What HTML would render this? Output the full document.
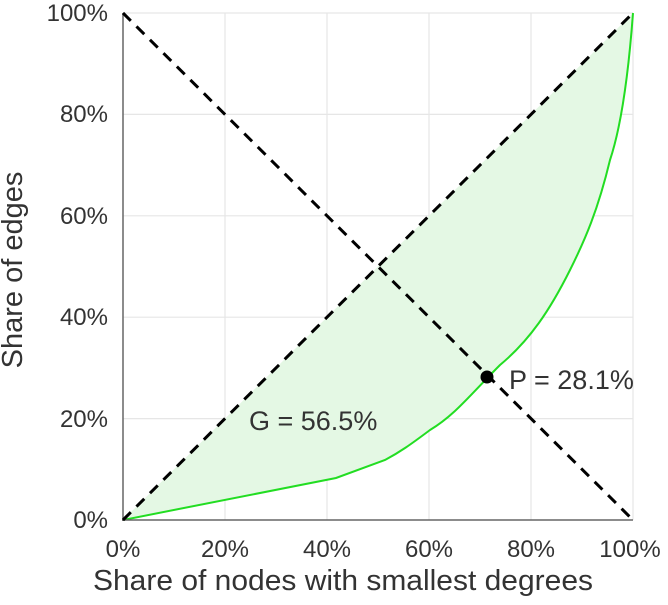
<!DOCTYPE html>
<html><head><style>body{margin:0;background:#fff}svg text{font-family:"Liberation Sans",sans-serif;fill:#333}</style></head>
<body>
<svg width="668" height="600" xmlns="http://www.w3.org/2000/svg">
<g stroke="#e6e6e6" stroke-width="1.2">
<line x1="225" y1="13" x2="225" y2="520"/><line x1="327" y1="13" x2="327" y2="520"/><line x1="429" y1="13" x2="429" y2="520"/><line x1="531" y1="13" x2="531" y2="520"/><line x1="633" y1="13" x2="633" y2="520"/>
<line x1="123" y1="13" x2="633" y2="13"/><line x1="123" y1="114.4" x2="633" y2="114.4"/><line x1="123" y1="215.8" x2="633" y2="215.8"/><line x1="123" y1="317.2" x2="633" y2="317.2"/><line x1="123" y1="418.6" x2="633" y2="418.6"/>
</g>
<path d="M123,520 L633,13 C628,80 620,130 610,160 C598,210 585,240 570,270 C550,310 530,340 500,365 C470,395 455,415 430,430 C410,445 400,452 385,460 L336,478 Z" fill="#e4f8e4"/>
<path d="M123,520 L336,478 L385,460 C400,452 410,445 430,430 C455,415 470,395 500,365 C530,340 550,310 570,270 C585,240 598,210 610,160 C620,130 628,80 633,13" fill="none" stroke="#22dd22" stroke-width="2"/>
<g stroke="#666" stroke-width="1.5"><line x1="123" y1="13" x2="123" y2="521"/><line x1="122" y1="520" x2="633" y2="520"/></g>
<g stroke="#000" stroke-width="3" stroke-dasharray="11,8"><line x1="123" y1="520" x2="633" y2="13"/><line x1="123" y1="13" x2="633" y2="520"/></g>
<circle cx="487" cy="377" r="6.5" fill="#000"/>
<text x="509" y="389" font-size="27">P = 28.1%</text>
<text x="249" y="430" font-size="27">G = 56.5%</text>
<g font-size="24" text-anchor="end"><text x="108" y="528">0%</text><text x="108" y="427">20%</text><text x="108" y="325">40%</text><text x="108" y="224">60%</text><text x="108" y="122">80%</text><text x="108" y="21">100%</text></g>
<g font-size="24" text-anchor="middle"><text x="123" y="557">0%</text><text x="225" y="557">20%</text><text x="327" y="557">40%</text><text x="429" y="557">60%</text><text x="531" y="557">80%</text><text x="630" y="557">100%</text></g>
<text x="93" y="590" font-size="29" textLength="500" lengthAdjust="spacingAndGlyphs">Share of nodes with smallest degrees</text>
<text transform="translate(22,270) rotate(-90)" font-size="29" text-anchor="middle">Share of edges</text>
</svg>
</body></html>
